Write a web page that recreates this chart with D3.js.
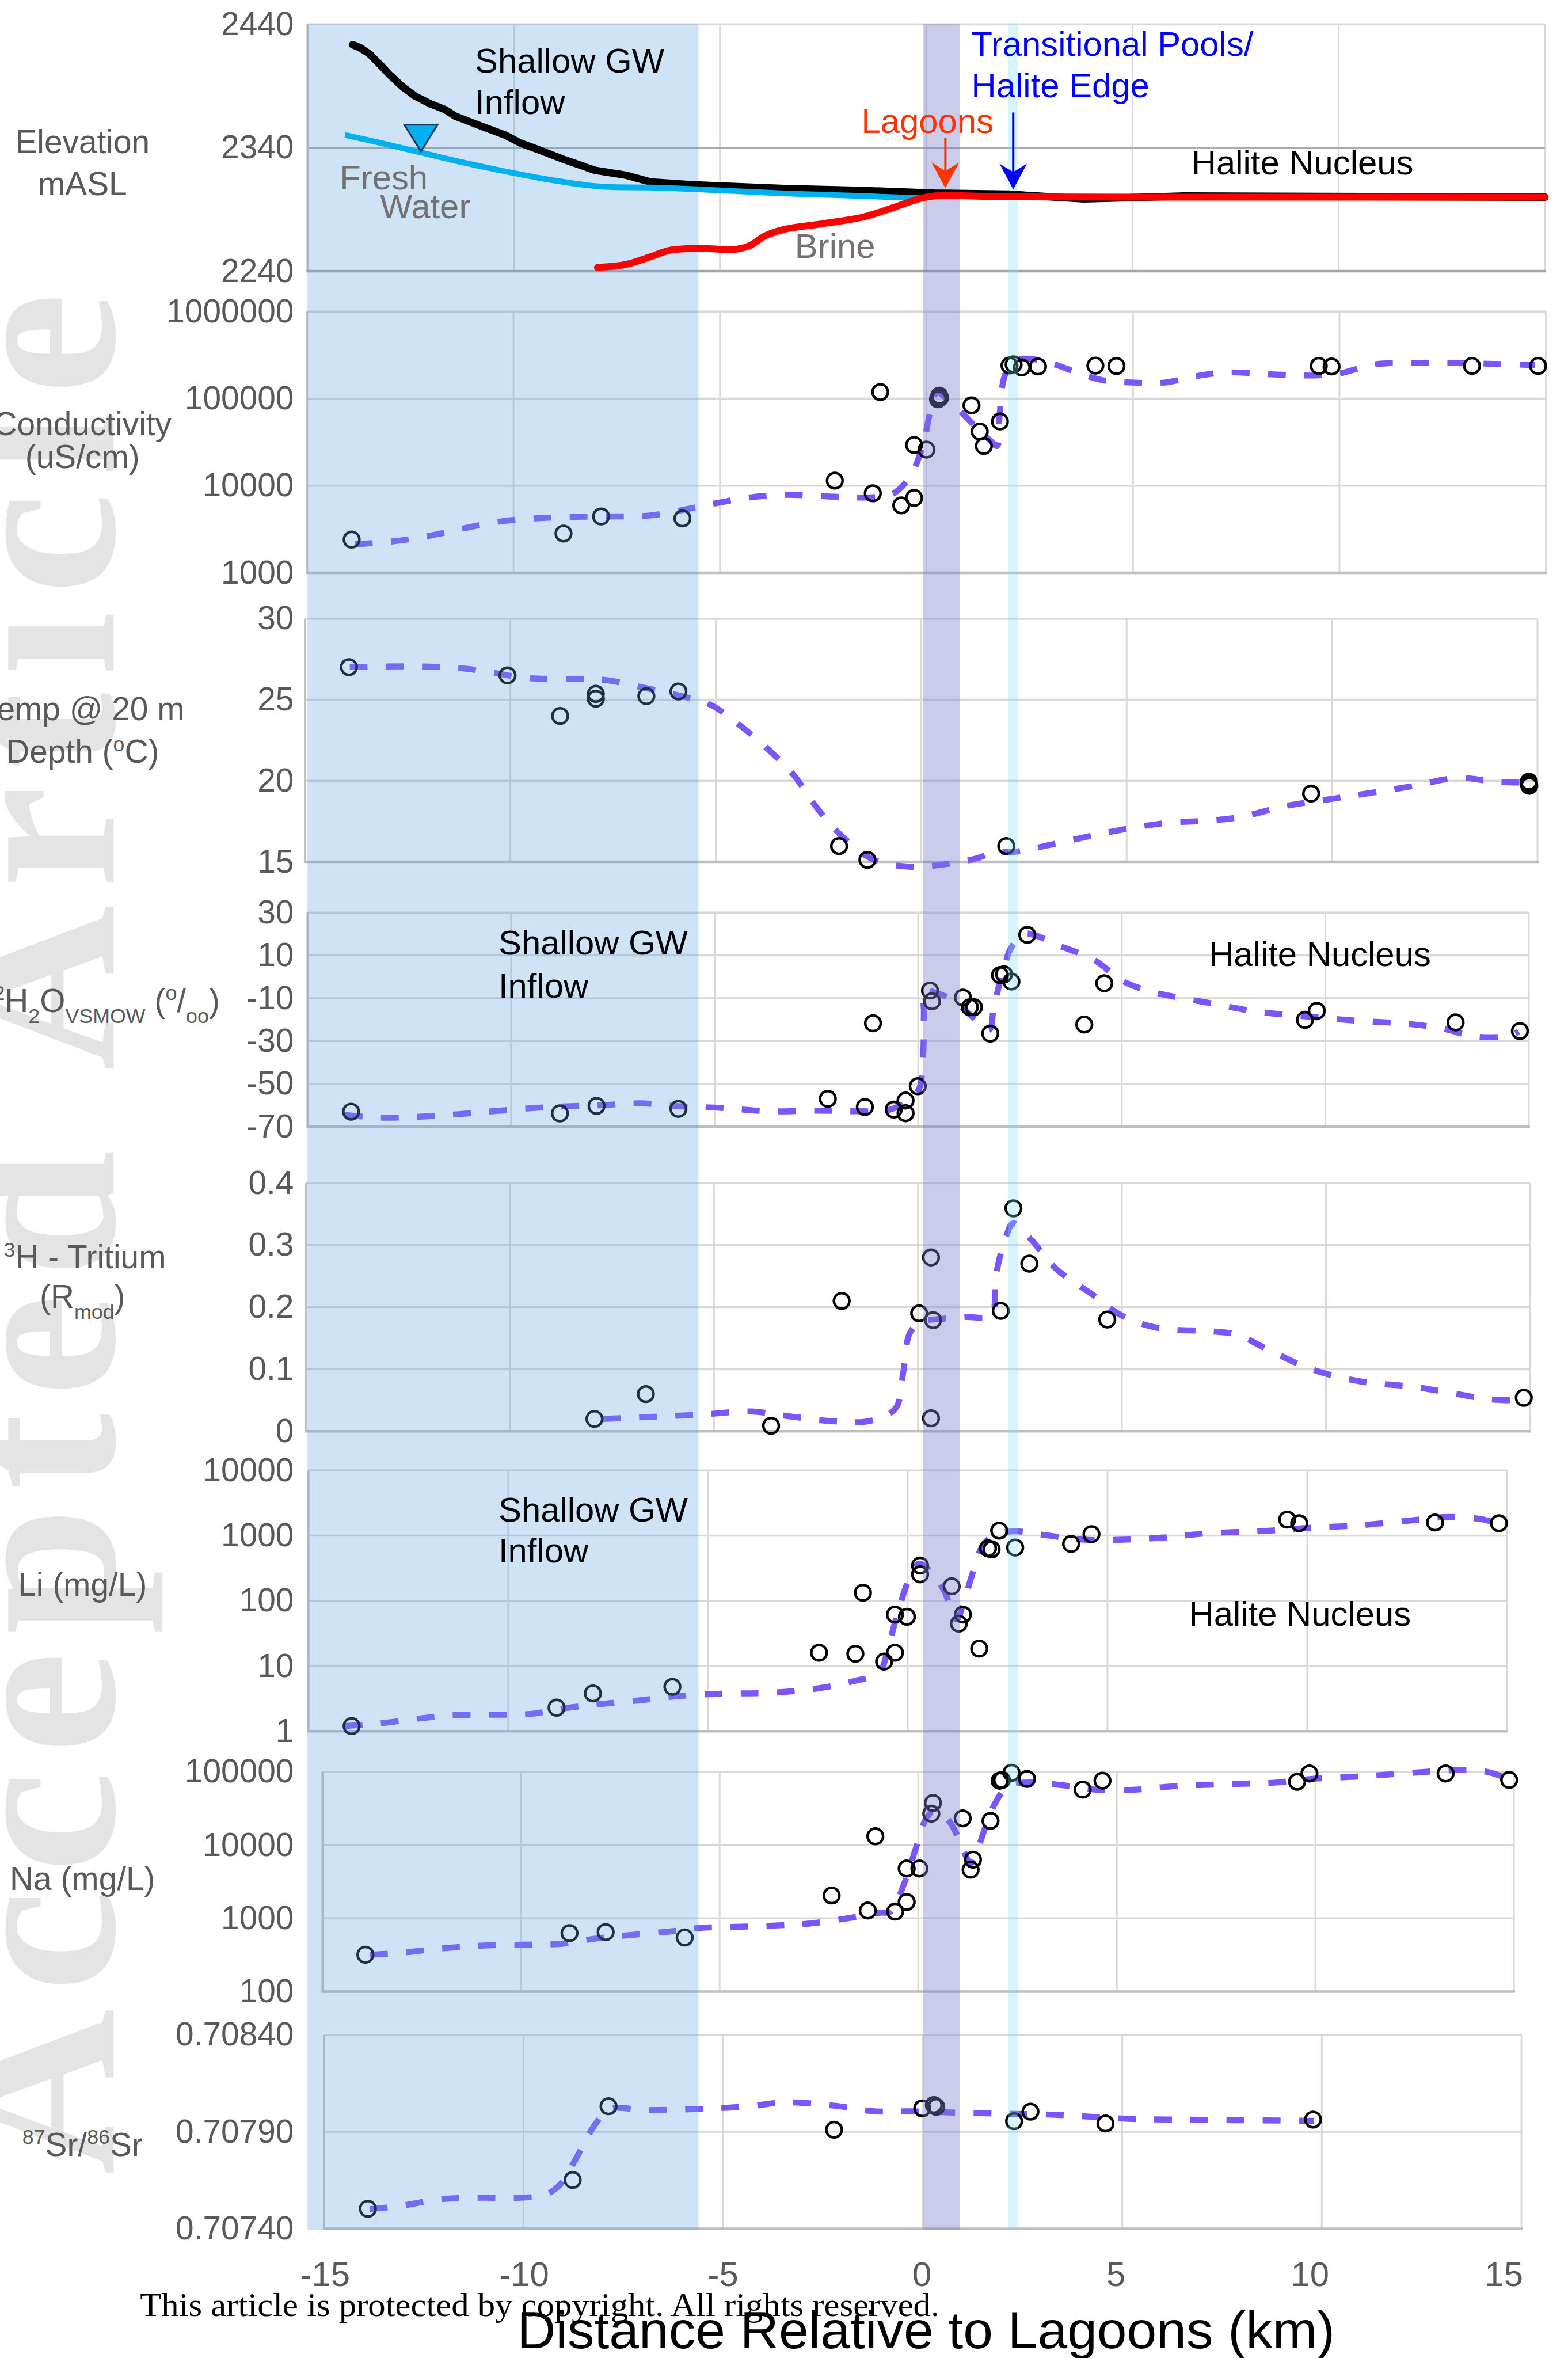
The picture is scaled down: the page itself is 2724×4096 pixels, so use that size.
<!DOCTYPE html>
<html>
<head>
<meta charset="utf-8">
<script src="https://cdn.jsdelivr.net/npm/d3@7"></script>
<style>
body{margin:0;background:#fff}
svg{display:block}
</style>
</head>
<body>
<div id="chart"></div>
<script>
// ---- data (x = distance relative to lagoons, km) ----
var xTickValues = [-15, -10, -5, 0, 5, 10, 15];

var groundSurface = [[-13.91,2423.5],[-13.73,2421.2],[-13.49,2415.8],[-13.24,2407.3],[-13.0,2398.8],[-12.70,2389.5],[-12.39,2381.8],[-12.03,2375.7],[-11.67,2371],[-11.42,2365.6],[-10.82,2357.9],[-10.21,2350.3],[-9.85,2344],[-9.36,2337.9],[-8.76,2330.2],[-8.03,2321.7],[-7.30,2317.9],[-6.70,2312.4],[-5.73,2310.1],[-4.88,2308.9],[-3.45,2307],[-1.63,2305.5],[0.19,2303.2],[2.0,2302.4],[3.82,2298.6],[6.25,2300.9],[15,2300]];
var freshWater = [[-14.09,2350.3],[-13.24,2344],[-12.27,2336.3],[-11.30,2328.6],[-10.33,2321.7],[-9.12,2314],[-7.91,2308.6],[-6.70,2307.8],[-5.49,2306.3],[-3.45,2303],[-1.63,2301],[-0.06,2299]];
var brine = [[-7.97,2243],[-7.30,2245.3],[-6.70,2251.5],[-6.22,2256.9],[-5.49,2258.5],[-4.64,2257.7],[-4.27,2260.8],[-3.91,2268.5],[-3.45,2273.8],[-2.48,2278.6],[-1.51,2284],[-0.78,2291.7],[-0.18,2298.6],[0.18,2300.9],[2,2300.2],[5,2300],[10,2300],[15,2300]];
var waterTable = [-12.25, 2337];

var condPoints = [[-13.92,2410],[-8.79,2826],[-7.88,4443],[-5.91,4216],[-2.22,11450],[-1.30,8190],[-1.12,119000],[-0.61,5950],[-0.30,7240],[-0.30,29400],[0.0,26000],[0.31,108000],[0.33,102500],[0.28,98400],[1.09,83700],[1.29,41900],[1.39,28600],[1.78,54700],[2.01,240400],[2.11,247300],[2.31,228000],[2.70,233900],[4.09,239500],[4.60,237000],[9.50,237700],[9.81,233900],[13.21,237700],[14.81,237700]];
var condTrend = [[-13.84,2133],[-12.99,2280],[-12.14,2606],[-11.23,3221],[-10.32,3890],[-9.48,4217],[-8.63,4395],[-7.54,4446],[-6.69,4560],[-5.96,5212],[-5.24,6109],[-4.27,7362],[-3.44,7870],[-2.23,7482],[-1.38,7362],[-0.84,7980],[-0.54,10400],[-0.29,15920],[-0.05,33570],[0.07,63530],[0.25,117200],[0.49,100000],[0.86,68700],[1.22,46130],[1.53,33570],[1.71,28640],[1.77,63530],[1.89,179500],[2.13,274800],[2.62,281800],[3.10,247200],[3.71,194500],[4.31,161100],[5.04,152800],[5.77,152800],[6.49,179500],[7.22,199500],[8.43,189200],[9.40,184500],[10.0,194500],[10.85,247200],[11.83,255900],[12.79,255900],[13.76,250600],[14.73,242700]];

var tempPoints = [[-13.93,27.01],[-10.07,26.5],[-8.79,24.0],[-7.92,25.36],[-7.92,25.06],[-6.69,25.22],[-5.91,25.51],[-2.0,15.97],[-1.31,15.12],[2.07,15.97],[9.49,19.21],[14.79,19.94],[14.79,19.82],[14.80,19.69]];
var tempTrend = [[-13.91,27.01],[-13.05,27.05],[-12.14,27.05],[-11.23,26.95],[-10.38,26.65],[-9.64,26.34],[-8.55,26.28],[-7.70,26.22],[-6.73,25.73],[-5.87,25.24],[-5.14,24.70],[-4.41,23.41],[-3.68,21.83],[-3.11,20.37],[-2.49,18.17],[-1.88,16.46],[-1.15,15.12],[-0.30,14.70],[0.67,14.88],[1.40,15.25],[1.77,15.61],[2.26,15.61],[3.23,16.10],[4.57,16.83],[5.91,17.38],[7.12,17.56],[7.85,17.80],[8.83,18.42],[10.04,18.90],[11.87,19.63],[13.08,20.18],[13.94,19.94],[14.79,19.88]];

var d2hPoints = [[-13.93,-63.0],[-8.80,-63.8],[-7.90,-60.3],[-5.89,-61.7],[-2.22,-57.0],[-1.31,-60.8],[-1.11,-21.7],[-0.60,-62.0],[-0.31,-57.8],[-0.31,-63.7],[-0.01,-51.1],[0.29,-6.4],[0.34,-11.4],[1.10,-9.7],[1.27,-14.2],[1.37,-14.2],[1.77,-26.5],[2.01,0.8],[2.11,1.2],[2.29,-2.2],[2.68,19.6],[4.08,-22.3],[4.57,-3.0],[9.50,-20.1],[9.79,-15.9],[13.2,-21.3],[14.78,-25.3]];
var d2hTrend = [[-14.08,-64.5],[-13.22,-65.8],[-12.11,-65.2],[-11.25,-64.1],[-10.27,-62.5],[-9.04,-60.8],[-7.82,-60.0],[-6.83,-59.1],[-5.85,-60.5],[-4.87,-61.2],[-3.64,-62.8],[-2.44,-62.5],[-1.45,-62.8],[-0.72,-62.2],[-0.23,-57.4],[0.02,-52.4],[0.12,-37.3],[0.14,-17.2],[0.16,-6.4],[0.39,-7.2],[0.82,-10.6],[1.25,-17.3],[1.74,-24.8],[1.86,-13.9],[2.11,4.5],[2.29,13.8],[2.60,20.0],[2.84,19.6],[3.46,14.6],[4.32,7.9],[5.05,-2.2],[5.79,-7.2],[7.14,-12.2],[8.37,-16.4],[9.60,-18.6],[10.83,-20.6],[12.05,-22.0],[12.92,-24.3],[13.65,-27.8],[14.51,-27.6],[14.75,-25.6]];

var tritiumPoints = [[-7.93,0.020],[-6.67,0.060],[-3.60,0.009],[-1.87,0.210],[0.03,0.190],[0.37,0.179],[0.32,0.280],[0.32,0.021],[2.03,0.194],[2.34,0.359],[2.73,0.270],[4.64,0.180],[14.85,0.054]];
var tritiumTrend = [[-7.72,0.020],[-6.67,0.023],[-5.32,0.027],[-4.09,0.032],[-3.25,0.025],[-2.02,0.016],[-1.16,0.017],[-0.55,0.037],[-0.36,0.095],[-0.20,0.158],[0.07,0.176],[0.56,0.181],[1.17,0.184],[1.79,0.187],[1.91,0.251],[2.16,0.314],[2.34,0.335],[2.77,0.309],[3.38,0.262],[4.24,0.222],[4.98,0.187],[5.84,0.167],[7.19,0.161],[7.80,0.156],[8.66,0.129],[9.65,0.100],[10.88,0.080],[12.11,0.072],[12.97,0.063],[13.96,0.052],[14.57,0.050]];

var liPoints = [[-13.92,1.2],[-8.79,2.3],[-7.88,3.8],[-5.89,4.8],[-2.22,16],[-1.31,15.4],[-1.12,133],[-0.59,11.7],[-0.32,16],[-0.32,61.5],[-0.02,57],[0.31,348],[0.31,255],[1.10,167],[1.38,61.5],[1.28,44.7],[1.79,18.5],[2.01,640],[2.10,616],[2.29,1190],[2.69,656],[4.09,745],[4.60,1052],[9.50,1762],[9.80,1552],[13.20,1592],[14.80,1552]];
var liTrend = [[-14.09,1.2],[-13.21,1.32],[-12.34,1.54],[-11.46,1.75],[-10.46,1.79],[-9.45,1.84],[-8.70,2.2],[-7.83,2.56],[-6.70,2.98],[-5.70,3.47],[-4.57,3.78],[-3.45,3.88],[-2.22,4.57],[-1.34,5.89],[-0.72,7.8],[-0.47,21.5],[-0.22,76.2],[0.03,210],[0.28,371],[0.60,270],[0.91,143.5],[1.22,52.1],[1.41,98.2],[1.60,238],[1.85,656],[2.16,1023],[2.66,1164],[3.41,1023],[4.41,867],[5.41,867],[6.42,935],[7.54,1089],[8.92,1175],[10.05,1318],[11.30,1439],[12.55,1698],[13.55,1932],[14.42,1762],[14.92,1403]];

var naPoints = [[-13.92,319],[-8.78,628],[-7.87,649],[-5.88,548],[-2.18,2050],[-1.27,1277],[-1.08,13150],[-0.58,1236],[-0.29,1672],[-0.29,4780],[0.03,4780],[0.33,26800],[0.37,37500],[1.12,23100],[1.32,4610],[1.38,6320],[1.82,21400],[2.05,75500],[2.11,77100],[2.35,96600],[2.74,79800],[4.14,57000],[4.64,75500],[9.54,72900],[9.85,94600],[13.28,94600],[14.88,77100]];
var naTrend = [[-13.80,319],[-13.04,338],[-12.04,386],[-11.02,424],[-9.89,438],[-9.01,448],[-8.12,530],[-7.24,593],[-6.23,664],[-5.47,743],[-4.46,769],[-3.45,804],[-2.72,851],[-1.84,989],[-0.96,1194],[-0.70,1236],[-0.33,3221],[-0.05,9397],[0.18,21830],[0.37,28580],[0.68,24430],[1.00,13150],[1.32,5649],[1.50,8872],[1.69,17460],[1.95,38370],[2.26,63680],[2.70,71290],[3.59,65920],[4.47,57020],[5.48,57020],[6.49,63680],[7.75,67450],[9.01,71290],[9.90,79800],[11.16,86500],[12.42,96600],[13.68,105700],[14.31,100000],[14.82,81700]];

var srPoints = [[-13.90,0.707503],[-8.77,0.707652],[-7.87,0.708032],[-2.22,0.707911],[-0.01,0.708021],[0.28,0.708038],[0.34,0.708029],[2.29,0.707955],[2.70,0.708004],[4.58,0.707943],[9.78,0.707963]];
var srTrend = [[-13.85,0.707501],[-13.09,0.707518],[-12.09,0.707552],[-11.09,0.70756],[-10.09,0.70756],[-9.46,0.707575],[-9.09,0.707627],[-8.71,0.707753],[-8.21,0.707937],[-7.84,0.708018],[-6.96,0.708012],[-5.58,0.708018],[-4.33,0.708032],[-3.48,0.708052],[-2.22,0.708035],[-1.22,0.708006],[-0.22,0.708006],[0.66,0.708],[1.91,0.707994],[3.16,0.707989],[4.29,0.707977],[5.29,0.707966],[6.54,0.707963],[7.80,0.70796],[9.05,0.707958],[9.80,0.707957]];

// zones along the transect (km, on the elevation panel's axis)
var shallowZone = [-15, -5.52];
var lagoonZone = [-0.07, 0.81];
var transitionZone = [1.99, 2.23];

// ---- layout ----
var SANS = "'Liberation Sans', Arial, sans-serif";
var SERIF = "'Liberation Serif', 'Times New Roman', serif";
var TRENDC = "#7B55FB";
var plain = function(d){ return String(d); };   // keeps the ascii hyphen for negatives

var svg = d3.select("#chart").append("svg").attr("width", 2724).attr("height", 4096);
svg.append("rect").attr("width", 2724).attr("height", 4096).attr("fill", "#fff");
var g = svg.append("g").attr("transform", "scale(0.997)");

// watermark
g.append("text")
	.attr("transform", "translate(198,3789) rotate(-90)")
	.attr("font-family", SERIF).attr("font-size", 400).attr("font-weight", "bold")
	.attr("fill", "#E5E4E5")
	.attr("textLength", 3279).attr("lengthAdjust", "spacing")
	.text("Accepted Article");

var gBase = g.append("g");
var gOver = g.append("g");
var gTop = g.append("g");
var gText = g.append("g").attr("font-family", SANS);

var panels = [
	{x0:535.8, x1:2692, y0:42.4, y1:472.5, domain:[2240,2440], ticks:[2240,2340,2440], hgrid:"#ABABAB"},
	{x0:535, x1:2693.7, y0:542.8, y1:998.1, log:true, domain:[1000,1e6], ticks:[1e3,1e4,1e5,1e6], pts:condPoints, trend:condTrend},
	{x0:531.4, x1:2679, y0:1077.9, y1:1501.5, domain:[15,30], ticks:[15,20,25,30], pts:tempPoints, trend:tempTrend},
	{x0:535.8, x1:2664, y0:1590, y1:1963, domain:[-70,30], ticks:[-70,-50,-30,-10,10,30], pts:d2hPoints, trend:d2hTrend},
	{x0:533.2, x1:2665.8, y0:2061, y1:2493.8, domain:[0,0.4], ticks:[0,0.1,0.2,0.3,0.4], pts:tritiumPoints, trend:tritiumTrend},
	{x0:537.5, x1:2625.8, y0:2561.9, y1:3016.3, log:true, domain:[1,10000], ticks:[1,10,100,1000,10000], pts:liPoints, trend:liTrend},
	{x0:561.9, x1:2638, y0:3086.9, y1:3470, log:true, domain:[100,1e5], ticks:[100,1000,1e4,1e5], pts:naPoints, trend:naTrend},
	{x0:564.5, x1:2651, y0:3545.4, y1:3883.1, domain:[0.7074,0.7084], ticks:[0.7074,0.7079,0.7084], fmt:d3.format(".5f"), pts:srPoints, trend:srTrend}
];

function drawPanel(p)
{
	var x = d3.scaleLinear().domain([-15, 15]).range([p.x0, p.x1]);
	var y = (p.log ? d3.scaleLog() : d3.scaleLinear()).domain(p.domain).range([p.y1, p.y0]);
	var grid = gBase.append("g");
	grid.selectAll(".v").data(xTickValues.slice(1)).enter().append("line")
		.attr("x1", function(d){ return x(d); }).attr("x2", function(d){ return x(d); })
		.attr("y1", p.y0).attr("y2", p.y1)
		.attr("stroke", "#D9D9D9").attr("stroke-width", 3);
	grid.selectAll(".h").data(p.ticks.slice(1)).enter().append("line")
		.attr("x1", p.x0).attr("x2", p.x1)
		.attr("y1", function(d){ return y(d); }).attr("y2", function(d){ return y(d); })
		.attr("stroke", function(d, i){ return (i == p.ticks.length - 2) ? "#D9D9D9" : (p.hgrid || "#D9D9D9"); })
		.attr("stroke-width", 3.5);
	grid.append("line").attr("x1", p.x0).attr("x2", p.x0).attr("y1", p.y0).attr("y2", p.y1)
		.attr("stroke", "#BFBFBF").attr("stroke-width", 3.5);
	grid.append("line").attr("x1", p.x0 - 2).attr("x2", p.x1 + 2).attr("y1", p.y1).attr("y2", p.y1)
		.attr("stroke", p.hgrid ? "#A6A6A6" : "#BFBFBF").attr("stroke-width", 4.5);

	var ax = gText.append("g").attr("transform", "translate(512,0)")
		.call(d3.axisLeft(y).tickValues(p.ticks).tickSize(0).tickPadding(0).tickFormat(p.fmt || plain));
	ax.select(".domain").remove();
	ax.attr("font-size", 57).attr("font-family", SANS);
	ax.selectAll("text").attr("fill", "#595959");

	if (p.trend) {
		var line = d3.line().x(function(d){ return x(d[0]); }).y(function(d){ return y(d[1]); })
			.curve(d3.curveCatmullRom.alpha(0.5));
		gBase.append("path").attr("d", line(p.trend))
			.attr("fill", "none").attr("stroke", TRENDC).attr("stroke-width", 10.5)
			.attr("stroke-dasharray", "31,32");
	}
	if (p.pts) {
		gBase.append("g").selectAll("circle").data(p.pts).enter().append("circle")
			.attr("cx", function(d){ return x(d[0]); }).attr("cy", function(d){ return y(d[1]); })
			.attr("r", 13.5).attr("fill", "none").attr("stroke", "#000").attr("stroke-width", 4.5);
	}
	return {x: x, y: y};
}

var scales = panels.map(drawPanel);
var ex = scales[0].x, ey = scales[0].y;

// shaded zones, drawn over the panels
function zone(r, fill, op)
{
	gOver.append("rect")
		.attr("x", ex(r[0])).attr("width", ex(r[1]) - ex(r[0]))
		.attr("y", 42).attr("height", 3885 - 42)
		.attr("fill", fill).attr("fill-opacity", op);
}
zone(shallowZone, "rgb(95,162,228)", 0.3);
zone(lagoonZone, "rgb(125,125,205)", 0.4);
zone(transitionZone, "rgb(118,225,242)", 0.3);

// elevation profile lines
var eline = d3.line().x(function(d){ return ex(d[0]); }).y(function(d){ return ey(d[1]); });
gTop.append("path").attr("d", eline(groundSurface)).attr("fill", "none")
	.attr("stroke", "#000").attr("stroke-width", 13).attr("stroke-linecap", "round").attr("stroke-linejoin", "round");
gTop.append("path").attr("d", eline.curve(d3.curveCatmullRom.alpha(0.5))(freshWater)).attr("fill", "none")
	.attr("stroke", "#00B0F0").attr("stroke-width", 10);
gTop.append("path").attr("d", eline.curve(d3.curveCatmullRom.alpha(0.5))(brine)).attr("fill", "none")
	.attr("stroke", "#FF0000").attr("stroke-width", 12).attr("stroke-linecap", "round");

var wtx = ex(waterTable[0]), wty = ey(waterTable[1]);
gTop.append("path")
	.attr("d", "M" + (wtx - 29) + "," + (wty - 46.6) + "L" + (wtx + 29) + "," + (wty - 46.6) + "L" + wtx + "," + wty + "Z")
	.attr("fill", "#00B0F0").attr("stroke", "#1F3864").attr("stroke-width", 3);

function arrow(km, yStart, yTip, color)
{
	var ax = ex(km);
	gTop.append("line").attr("x1", ax).attr("x2", ax).attr("y1", yStart).attr("y2", yTip - 30)
		.attr("stroke", color).attr("stroke-width", 4);
	gTop.append("path")
		.attr("d", "M" + ax + "," + yTip + "L" + (ax - 24) + "," + (yTip - 45) + "L" + ax + "," + (yTip - 30) + "L" + (ax + 24) + "," + (yTip - 45) + "Z")
		.attr("fill", color);
}
arrow(0.465, 240, 328, "#FF3300");
arrow(2.11, 196, 330, "#0000FF");

// annotations
function label(x, y, s, color, size)
{
	gText.append("text").attr("x", x).attr("y", y).attr("font-size", size || 60)
		.attr("fill", color || "#000").text(s);
}
label(827.6, 126, "Shallow GW"); label(827.6, 199, "Inflow");
label(592, 330, "Fresh", "#767171"); label(662, 380, "Water", "#767171");
label(1385, 449, "Brine", "#767171");
label(1501, 232, "Lagoons", "#FF3300");
label(1692.7, 97, "Transitional Pools/", "#0000FF");
label(1692.7, 170, "Halite Edge", "#0000FF");
label(2076, 304, "Halite Nucleus");
label(868.6, 1663, "Shallow GW"); label(868.6, 1738, "Inflow");
label(2106.5, 1683, "Halite Nucleus");
label(868.6, 2650.6, "Shallow GW"); label(868.6, 2722.5, "Inflow");
label(2071.7, 2832.5, "Halite Nucleus");

// y-axis titles
function rich(x, y, parts, anchor)
{
	var fs = 57, t = gText.append("text").attr("x", x).attr("y", y)
		.attr("font-size", fs).attr("fill", "#595959").attr("text-anchor", anchor || "middle");
	var shift = 0;
	parts.forEach(function(p) {
		var target = p.sup ? -0.36 * fs : (p.sub ? 0.34 * fs : 0);
		t.append("tspan").attr("dy", target - shift)
			.attr("font-size", (p.sup || p.sub) ? fs * 0.63 : fs).text(p.t);
		shift = target;
	});
}
rich(143.7, 267, [{t:"Elevation"}]);
rich(143.7, 340, [{t:"mASL"}]);
rich(143.7, 758, [{t:"Conductivity"}]);
rich(143.7, 815, [{t:"(uS/cm)"}]);
rich(143.7, 1255, [{t:"Temp @ 20 m"}]);
rich(143.7, 1329, [{t:"Depth ("}, {t:"o", sup:true}, {t:"C)"}]);
rich(383, 1763, [{t:"\u03B4"}, {t:"2", sup:true}, {t:"H"}, {t:"2", sub:true}, {t:"O"}, {t:"VSMOW", sub:true}, {t:" ("}, {t:"o", sup:true}, {t:"/"}, {t:"oo", sub:true}, {t:")"}], "end");
rich(148, 2210, [{t:"3", sup:true}, {t:"H - Tritium"}]);
rich(143.7, 2279, [{t:"(R"}, {t:"mod", sub:true}, {t:")"}]);
rich(143.7, 2780.6, [{t:"Li (mg/L)"}]);
rich(143.7, 3293, [{t:"Na (mg/L)"}]);
rich(143.7, 3756, [{t:"87", sup:true}, {t:"Sr/"}, {t:"86", sup:true}, {t:"Sr"}]);

// bottom distance axis
var xb = d3.scaleLinear().domain([-15, 0, 15]).range([566, 1606, 2620]);
var bx = gText.append("g").attr("transform", "translate(0,3940.4)")
	.call(d3.axisBottom(xb).tickValues(xTickValues).tickSize(0).tickPadding(0).tickFormat(plain));
bx.select(".domain").remove();
bx.attr("font-size", 60).attr("font-family", SANS);
bx.selectAll("text").attr("fill", "#595959");

gText.append("text").attr("x", 244).attr("y", 4035)
	.attr("font-family", SERIF).attr("font-size", 57).attr("fill", "#000")
	.attr("textLength", 1393).attr("lengthAdjust", "spacingAndGlyphs")
	.text("This article is protected by copyright. All rights reserved.");
gText.append("text").attr("x", 901).attr("y", 4091)
	.attr("font-size", 92).attr("fill", "#000")
	.attr("textLength", 1425).attr("lengthAdjust", "spacingAndGlyphs")
	.text("Distance Relative to Lagoons (km)");
</script>
</body>
</html>
